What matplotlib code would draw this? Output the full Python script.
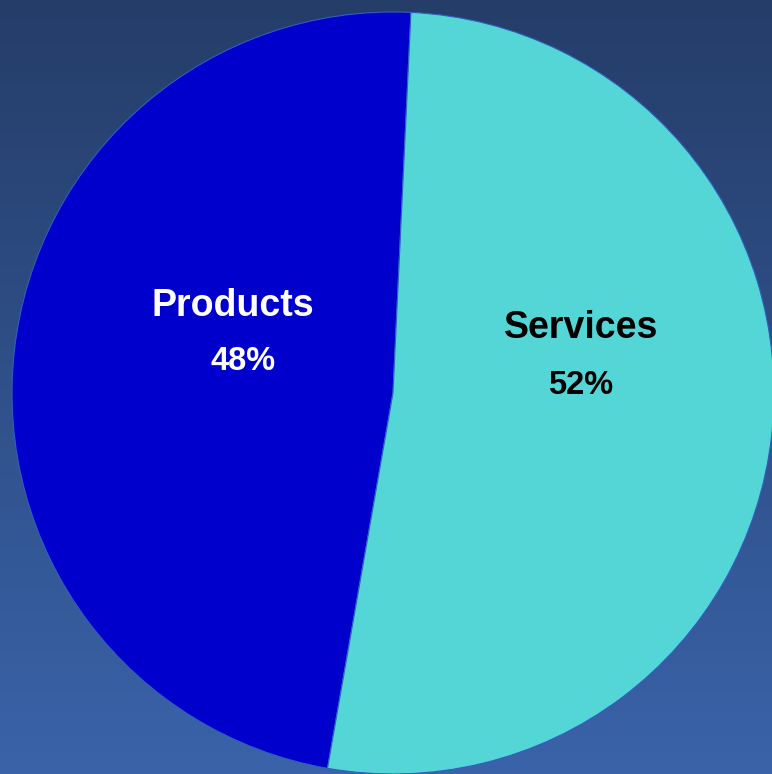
import numpy as np
import matplotlib
matplotlib.use('Agg')
import matplotlib.pyplot as plt
from matplotlib.colors import LinearSegmentedColormap

# data
labels = ['Products', 'Services']
shares = [48, 52]
colors = ['#0000cc', '#55d6d6']
text_colors = ['white', 'black']

W, H = 772, 774
fig = plt.figure(figsize=(W / 100, H / 100), dpi=100)
ax = fig.add_axes([0, 0, 1, 1])
ax.set_xlim(0, W)
ax.set_ylim(0, H)
ax.set_aspect('equal')
ax.axis('off')

# background gradient, dark navy at top to lighter blue at bottom
bg = LinearSegmentedColormap.from_list('bg', ['#3a63a9', '#253d69'])
grad = np.linspace(0, 1, 256).reshape(-1, 1)
ax.imshow(grad, cmap=bg, extent=[0, W, 0, H], origin='lower', aspect='auto', zorder=0)

cx, cy, r = 393, H - 393, 381
wedges, _ = ax.pie(shares, colors=colors, startangle=87.3, counterclock=True,
                   center=(cx, cy), radius=r, frame=True,
                   wedgeprops=dict(edgecolor='#2f5fc0', linewidth=0.8))
for w in wedges:
    w.set_zorder(2)
ax.set_xlim(0, W)
ax.set_ylim(0, H)
ax.axis('off')

# label positions (pixel coords from top-left)
name_pos = [(233, 306), (581, 328)]
pct_pos = [(243, 361), (581, 385)]
for i in range(len(labels)):
    ax.text(name_pos[i][0], H - name_pos[i][1], labels[i], ha='center', va='center',
            fontsize=27, fontweight='bold', family='Liberation Sans',
            color=text_colors[i], zorder=3)
    ax.text(pct_pos[i][0], H - pct_pos[i][1], '%d%%' % shares[i], ha='center', va='center',
            fontsize=23.5, fontweight='bold', family='Liberation Sans',
            color=text_colors[i], zorder=3)

fig.savefig('out.png', dpi=100)
